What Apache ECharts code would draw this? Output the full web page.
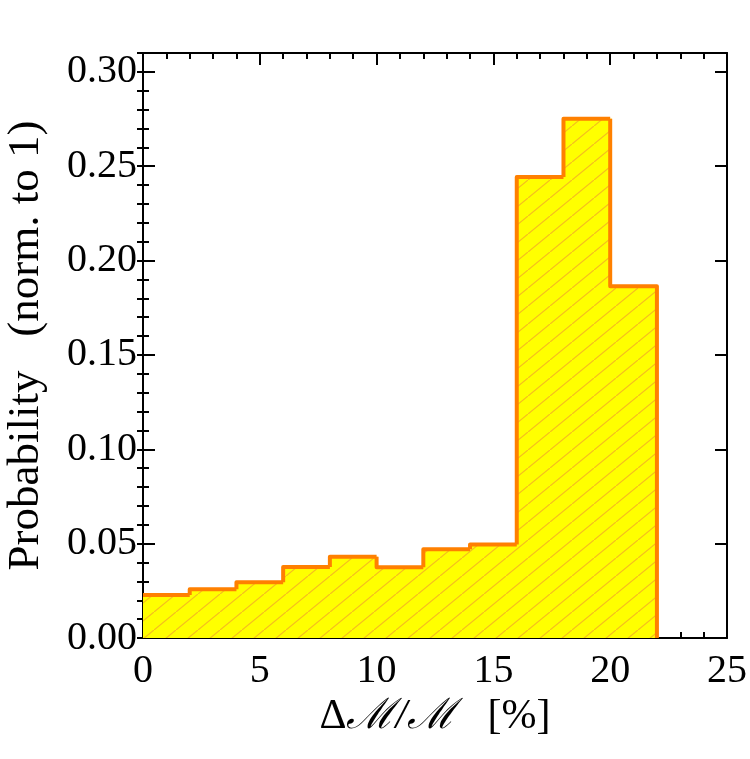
<!DOCTYPE html>
<html><head><meta charset="utf-8">
<script src="https://cdn.jsdelivr.net/npm/echarts@6/dist/echarts.min.js"></script>
<style>html,body{margin:0;padding:0;background:#fff}#c{width:750px;height:759px}</style>
</head><body><div id="c"></div>
<script>
// Histogram data (bin edges in %, probability normalised to 1)
const binEdges = [0, 2, 4, 6, 8, 10, 12, 14, 16, 18, 20, 22];
const probabilities = [0.0228, 0.0258, 0.0296, 0.0376, 0.0430, 0.0375, 0.0470, 0.0496, 0.2443, 0.2751, 0.1864];
const xTickValues = [0, 5, 10, 15, 20, 25];
const yTickValues = [0.00, 0.05, 0.10, 0.15, 0.20, 0.25, 0.30];

// hatch pattern
const tile = document.createElement('canvas');
tile.width = 22; tile.height = 18;
const tc = tile.getContext('2d');
tc.fillStyle = '#FFFF00';
tc.fillRect(0, 0, tile.width, tile.height);
tc.strokeStyle = '#F5BE1E';
tc.lineWidth = 1.2;
tc.beginPath();
tc.moveTo(-2, tile.height + 2 * tile.height / tile.width);
tc.lineTo(tile.width + 2, -2 * tile.height / tile.width);
tc.stroke();

const binData = probabilities.map((v, i) => [binEdges[i], binEdges[i + 1], v, i > 0 ? probabilities[i - 1] : 0, i === probabilities.length - 1 ? 1 : 0]);

const FONT = '"Liberation Serif", "DejaVu Serif", serif';
const tickFont = 40;
const nameFont = 42;

function majorAxis(pos) {
  return {
    position: pos,
    axisLine: {show: true, onZero: false, lineStyle: {color: '#000', width: 2}},
    axisTick: {show: true, inside: true, length: 12, lineStyle: {color: '#000', width: 2}},
    splitLine: {show: false}
  };
}

const chart = echarts.init(document.getElementById('c'), null, {renderer: 'canvas'});
chart.setOption({
  animation: false,
  backgroundColor: '#fff',
  grid: {left: 143, right: 23, top: 53, bottom: 121, containLabel: false, outerBoundsMode: 'none'},
  xAxis: [
    Object.assign(majorAxis('bottom'), {
      type: 'value', min: 0, max: 25, interval: 5,
      minorTick: {show: true, splitNumber: 5, length: 6, lineStyle: {color: '#000', width: 2}},
      axisLabel: {show: true, margin: 13, color: '#000', fontFamily: FONT, fontSize: tickFont,
        formatter: v => xTickValues.includes(v) ? String(v) : ''},
      name: '{d|Δ}{m|ℳ}{s|/}{m|ℳ}{g|   [%]}', nameLocation: 'middle', nameGap: 46,
      nameTextStyle: {color: '#000', fontFamily: FONT, fontSize: nameFont,
        rich: {
          d: {fontFamily: FONT, fontSize: nameFont, color: '#000'},
          m: {fontFamily: FONT, fontSize: nameFont, fontStyle: 'italic', color: '#000'},
          s: {fontFamily: FONT, fontSize: nameFont, fontStyle: 'italic', color: '#000'},
          g: {fontFamily: FONT, fontSize: nameFont, color: '#000'}
        }}
    }),
    Object.assign(majorAxis('top'), {
      type: 'value', min: 0, max: 25, interval: 5,
      minorTick: {show: true, splitNumber: 5, length: 6, lineStyle: {color: '#000', width: 2}},
      axisLabel: {show: false}
    })
  ],
  yAxis: [
    Object.assign(majorAxis('left'), {
      type: 'value', min: 0, max: 0.31, interval: 0.05,
      axisLabel: {show: true, margin: 6, color: '#000', fontFamily: FONT, fontSize: tickFont,
        showMaxLabel: false,
        formatter: v => yTickValues.some(t => Math.abs(t - v) < 1e-9) ? v.toFixed(2) : ''},
      name: 'Probability   (norm. to 1)', nameLocation: 'middle', nameGap: 94,
      nameTextStyle: {color: '#000', fontFamily: FONT, fontSize: 45}
    }),
    Object.assign(majorAxis('right'), {
      type: 'value', min: 0, max: 0.31, interval: 0.05,
      axisLabel: {show: false}
    }),
    {
      type: 'value', min: 0, max: 0.31, interval: 0.01, position: 'left',
      axisLine: {show: false}, splitLine: {show: false}, axisLabel: {show: false},
      axisTick: {show: true, inside: true, length: 6, lineStyle: {color: '#000', width: 2}}
    },
    {
      type: 'value', min: 0, max: 0.31, interval: 0.01, position: 'right',
      axisLine: {show: false}, splitLine: {show: false}, axisLabel: {show: false},
      axisTick: {show: true, inside: true, length: 6, lineStyle: {color: '#000', width: 2}}
    }
  ],
  series: [
    {
      type: 'custom', xAxisIndex: 0, yAxisIndex: 0, z: 1, clip: true,
      data: binData,
      renderItem: function (params, api) {
        const p0 = api.coord([api.value(0), 0]);
        const p1 = api.coord([api.value(1), api.value(2)]);
        const x = Math.floor(p0[0]);
        return {
          type: 'rect',
          shape: {x: x, y: p1[1], width: Math.ceil(p1[0]) - x + 1, height: p0[1] - p1[1]},
          style: {fill: {image: tile, repeat: 'repeat'}, stroke: null}
        };
      }
    },
    {
      type: 'custom', xAxisIndex: 0, yAxisIndex: 0, z: 2, clip: false,
      data: binData,
      renderItem: function (params, api) {
        const x0 = api.value(0), x1 = api.value(1), v = api.value(2), prev = api.value(3), last = api.value(4);
        const pts = [];
        if (params.dataIndex > 0) pts.push(api.coord([x0, prev]));
        pts.push(api.coord([x0, v]));
        pts.push(api.coord([x1, v]));
        if (last) pts.push(api.coord([x1, 0]));
        return {
          type: 'polyline',
          shape: {points: pts},
          style: {stroke: '#FF8000', lineWidth: 4, fill: null, lineJoin: 'round', lineCap: 'butt'}
        };
      }
    }
  ]
});
</script></body></html>
